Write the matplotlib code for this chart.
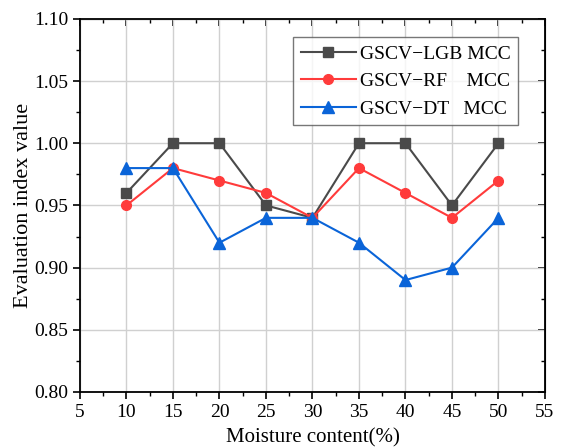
import matplotlib.pyplot as plt
from matplotlib.ticker import MultipleLocator

moisture = [10, 15, 20, 25, 30, 35, 40, 45, 50]
lgb_mcc = [0.96, 1.00, 1.00, 0.95, 0.94, 1.00, 1.00, 0.95, 1.00]
rf_mcc = [0.95, 0.98, 0.97, 0.96, 0.94, 0.98, 0.96, 0.94, 0.97]
dt_mcc = [0.98, 0.98, 0.92, 0.94, 0.94, 0.92, 0.89, 0.90, 0.94]

plt.rcParams['font.family'] = ['Liberation Serif', 'DejaVu Serif']

fig = plt.figure(figsize=(5.63, 4.48), dpi=100)
ax = fig.add_axes([0.142, 0.125, 0.826, 0.833])

ax.plot(moisture, lgb_mcc, color='#4a4a4a', marker='s', markersize=7, lw=1.5,
        label='GSCV\u2212LGB MCC')
ax.plot(moisture, rf_mcc, color='#ff3b3b', marker='o', markersize=7, lw=1.5,
        label='GSCV\u2212RF    MCC')
ax.plot(moisture, dt_mcc, color='#0a64d8', marker='^', markersize=8, lw=1.5,
        label='GSCV\u2212DT   MCC')

ax.set_xlim(5, 55)
ax.set_ylim(0.80, 1.10)
ax.xaxis.set_major_locator(MultipleLocator(5))
ax.xaxis.set_minor_locator(MultipleLocator(2.5))
ax.yaxis.set_major_locator(MultipleLocator(0.05))
ax.yaxis.set_minor_locator(MultipleLocator(0.025))
ax.yaxis.set_major_formatter(plt.FormatStrFormatter('%.2f'))

ax.grid(True, which='major', color='#d0d0d0', lw=1)
ax.set_axisbelow(True)
ax.tick_params(which='major', direction='out', length=5, width=1.2, labelsize=14)
ax.tick_params(which='minor', direction='out', length=3, width=1)
for s in ax.spines.values():
    s.set_linewidth(1.3)

# inward ticks on the top and right frame
top = ax.secondary_xaxis('top')
top.xaxis.set_major_locator(MultipleLocator(5))
top.xaxis.set_minor_locator(MultipleLocator(2.5))
top.tick_params(which='major', direction='in', length=5, width=1.2, labeltop=False)
top.tick_params(which='minor', direction='in', length=3, width=1)
right = ax.secondary_yaxis('right')
right.yaxis.set_major_locator(MultipleLocator(0.05))
right.yaxis.set_minor_locator(MultipleLocator(0.025))
right.tick_params(which='major', direction='in', length=5, width=1.2, labelright=False)
right.tick_params(which='minor', direction='in', length=3, width=1)

ax.set_xlabel('Moisture content(%)', fontsize=15)
ax.set_ylabel('Evaluation index value', fontsize=16)
ax.xaxis.set_label_coords(0.5, -0.098)
ax.yaxis.set_label_coords(-0.1, 0.5)

leg = ax.legend(loc='upper right', bbox_to_anchor=(0.963, 0.976), fontsize=14,
                frameon=True, fancybox=False, edgecolor='#555555',
                handlelength=2.8, handletextpad=0.2, borderpad=0.4,
                labelspacing=0.5)
leg.get_frame().set_linewidth(1.0)

fig.savefig('out.png', dpi=100)
